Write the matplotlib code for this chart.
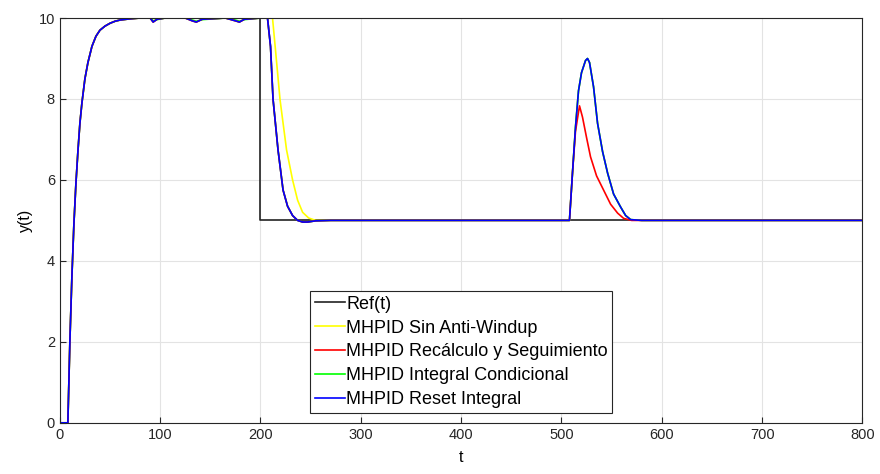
import matplotlib.pyplot as plt
import numpy as np

plt.rcParams['font.family'] = ['Liberation Sans', 'DejaVu Sans']

# Reference signal
t_ref = [0, 200, 200, 800]
y_ref = [10, 10, 5, 5]

# Common rise phase (all controllers overlap here)
t_rise = [0, 8, 10, 12, 14, 16, 18, 20, 22, 25, 28, 32, 36, 40, 45, 50, 55, 60, 70, 80]
y_rise = [0, 0, 2.0, 3.6, 4.9, 5.9, 6.7, 7.4, 7.9, 8.5, 8.9, 9.3, 9.55, 9.7, 9.8, 9.87, 9.92, 9.95, 9.98, 10.0]

# Steady part near 10 with small dips
t_top = [90, 93, 97, 105, 125, 132, 136, 142, 165, 175, 179, 184, 200, 207]
y_top = [10.0, 9.9, 9.97, 10.0, 10.0, 9.93, 9.9, 9.97, 10.0, 9.93, 9.9, 9.97, 10.0, 10.0]

# Step down at t=200: reset integral / recalculo / condicional
t_down = [210, 212.5, 217.5, 222.5, 227, 232, 237, 242, 247, 255, 270]
y_down = [9.3, 8.0, 6.74, 5.75, 5.35, 5.12, 5.0, 4.96, 4.96, 4.99, 5.0]

# Step down without anti-windup (slower)
t_down_saw = [212, 215, 219.5, 226, 232, 237, 242, 248, 255, 265]
y_down_saw = [10.0, 9.2, 7.98, 6.74, 6.0, 5.5, 5.2, 5.06, 5.0, 5.0]

# Disturbance response near t=508
t_dist = [300, 508, 511, 514, 517, 520, 524, 526, 528, 532, 536, 541, 546, 552, 559, 564, 569, 580, 800]
y_dist = [5.0, 5.0, 6.17, 7.3, 8.2, 8.65, 8.95, 9.0, 8.9, 8.3, 7.4, 6.7, 6.17, 5.65, 5.33, 5.12, 5.02, 5.0, 5.0]

t_dist_rec = [300, 508, 511, 514, 518, 521, 525, 529, 535, 542, 549, 556, 562, 570, 800]
y_dist_rec = [5.0, 5.0, 6.17, 7.2, 7.83, 7.55, 7.05, 6.57, 6.1, 5.75, 5.4, 5.18, 5.05, 5.0, 5.0]

# green series gets slightly different dips
y_top_green = [10.0, 9.93, 9.96, 10.0, 10.0, 9.95, 9.92, 9.96, 10.0, 9.95, 9.92, 9.96, 10.0, 10.0]

t_blue = t_rise + t_top + t_down + t_dist
y_blue = y_rise + y_top + y_down + y_dist
t_red = t_rise + t_top + t_down + t_dist_rec
y_red = y_rise + y_top + y_down + y_dist_rec
t_green = t_rise + t_top + t_down + t_dist
y_green = y_rise + y_top_green + y_down + y_dist
t_yel = t_rise + t_top + t_down_saw + t_dist
y_yel = y_rise + y_top + y_down_saw + y_dist

labels = ['Ref(t)', 'MHPID Sin Anti-Windup', 'MHPID Recálculo y Seguimiento',
          'MHPID Integral Condicional', 'MHPID Reset Integral']

fig = plt.figure(figsize=(8.8, 4.74), dpi=100)
ax = fig.add_axes([0.068, 0.108, 0.912, 0.854])

lw = 1.2
ax.plot(t_ref, y_ref, color='#222222', lw=lw, label=labels[0])
ax.plot(t_yel, y_yel, color='#ffff00', lw=lw, label=labels[1])
ax.plot(t_green, y_green, color='#00ff00', lw=lw, label=labels[3])
ax.plot(t_red, y_red, color='#ff0000', lw=lw, label=labels[2])
ax.plot(t_blue, y_blue, color='#0000ff', lw=lw, label=labels[4])

ax.set_xlim(0, 800)
ax.set_ylim(0, 10)
ax.set_xticks(np.arange(0, 801, 100))
ax.set_yticks(np.arange(0, 11, 2))
ax.grid(True, color='#e3e3e3', lw=0.8)
ax.set_axisbelow(True)
ax.tick_params(direction='in', length=4, labelsize=10.5, colors='#262626')
for s in ax.spines.values():
    s.set_color('#262626')
    s.set_linewidth(0.8)
ax.set_xlabel('t', fontsize=11.5, labelpad=6)
ax.set_ylabel('y(t)', fontsize=11.5, labelpad=4)

h, l = ax.get_legend_handles_labels()
order = [l.index(x) for x in labels]
leg = ax.legend([h[i] for i in order], [l[i] for i in order],
                loc='lower left', bbox_to_anchor=(0.312, 0.025),
                fontsize=13, frameon=True, fancybox=False, framealpha=1,
                edgecolor='#262626', handlelength=1.7, handletextpad=0.05,
                labelspacing=0.38, borderpad=0.25, borderaxespad=0)
leg.get_frame().set_linewidth(0.8)

fig.savefig('out.png', dpi=100)
